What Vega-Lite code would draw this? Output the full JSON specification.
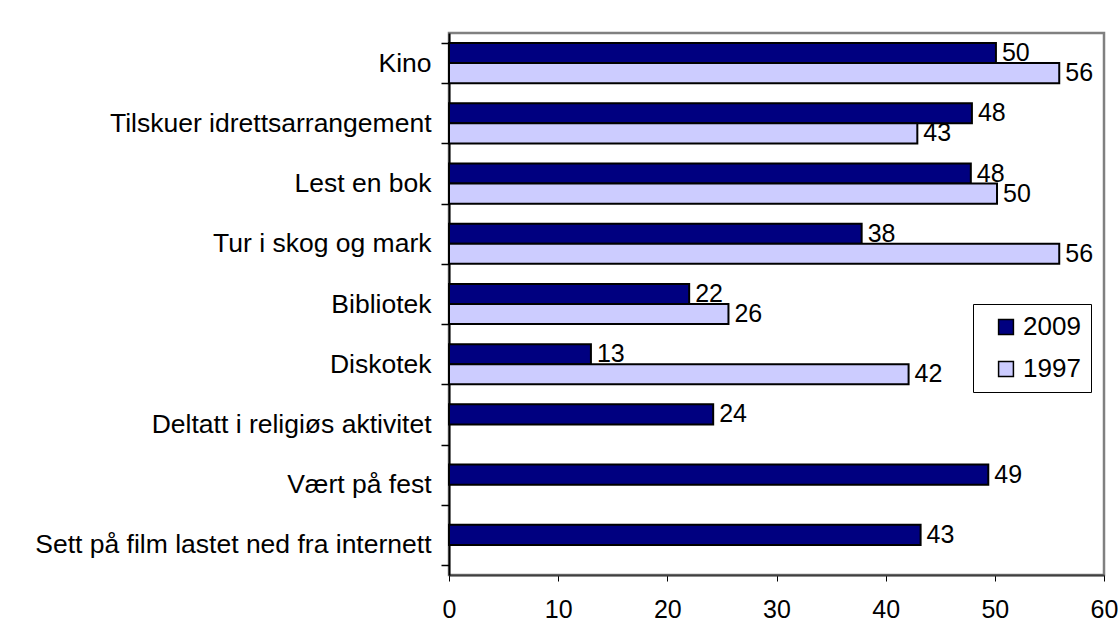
{
  "$schema": "https://vega.github.io/schema/vega-lite/v6.json",
  "autosize": "none",
  "width": 655,
  "height": 542,
  "padding": {"left": 449, "top": 33, "right": 16, "bottom": 67},
  "background": "white",
  "config": {
    "font": "Liberation Sans",
    "view": {"stroke": "#808080", "strokeWidth": 2.5}
  },
  "data": {
    "values": [
      {"cat": "Kino", "year": "2009", "value": 50.1},
      {"cat": "Kino", "year": "1997", "value": 55.9},
      {"cat": "Tilskuer idrettsarrangement", "year": "2009", "value": 47.9},
      {"cat": "Tilskuer idrettsarrangement", "year": "1997", "value": 42.9},
      {"cat": "Lest en bok", "year": "2009", "value": 47.8},
      {"cat": "Lest en bok", "year": "1997", "value": 50.2},
      {"cat": "Tur i skog og mark", "year": "2009", "value": 37.8},
      {"cat": "Tur i skog og mark", "year": "1997", "value": 55.9},
      {"cat": "Bibliotek", "year": "2009", "value": 22.0},
      {"cat": "Bibliotek", "year": "1997", "value": 25.6},
      {"cat": "Diskotek", "year": "2009", "value": 13.0},
      {"cat": "Diskotek", "year": "1997", "value": 42.1},
      {"cat": "Deltatt i religiøs aktivitet", "year": "2009", "value": 24.2},
      {"cat": "Vært på fest", "year": "2009", "value": 49.4},
      {"cat": "Sett på film lastet ned fra internett", "year": "2009", "value": 43.2}
    ]
  },
  "encoding": {
    "y": {
      "field": "cat",
      "type": "nominal",
      "sort": null,
      "scale": {"paddingInner": 0.333, "paddingOuter": 0.1667},
      "axis": {
        "title": null,
        "tickBand": "extent",
        "labelFontSize": 26.5,
        "labelColor": "black",
        "labelPadding": 10,
        "labelLimit": 500,
        "tickSize": 8,
        "tickColor": "black",
        "tickWidth": 1.5,
        "domainColor": "black",
        "domainWidth": 2
      }
    },
    "yOffset": {"field": "year", "type": "nominal", "scale": {"domain": ["2009", "1997"]}},
    "x": {
      "field": "value",
      "type": "quantitative",
      "scale": {"domain": [0, 60], "nice": false},
      "axis": {
        "title": null,
        "values": [0, 10, 20, 30, 40, 50, 60],
        "grid": false,
        "labelFlush": false,
        "labelFontSize": 25,
        "labelColor": "black",
        "labelPadding": 16,
        "tickSize": 6,
        "tickColor": "black",
        "tickWidth": 1,
        "domainColor": "#404040",
        "domainWidth": 2
      }
    }
  },
  "layer": [
    {
      "mark": {"type": "bar", "stroke": "black", "strokeWidth": 2, "opacity": 1},
      "encoding": {
        "fill": {
          "field": "year",
          "type": "nominal",
          "scale": {"domain": ["2009", "1997"], "range": ["#000080", "#CCCCFF"]},
          "legend": {
            "title": null,
            "orient": "none",
            "legendX": 524,
            "legendY": 271,
            "strokeColor": "black",
            "fillColor": "white",
            "padding": 10,
            "symbolOffset": 10,
            "symbolType": "square",
            "symbolSize": 220,
            "symbolStrokeColor": "black",
            "symbolStrokeWidth": 1.5,
            "symbolOpacity": 1,
            "labelFontSize": 26,
            "labelColor": "black",
            "labelOffset": 4,
            "rowPadding": 16
          }
        }
      }
    },
    {
      "mark": {"type": "text", "align": "left", "baseline": "middle", "dx": 6, "fontSize": 25, "color": "black"},
      "encoding": {
        "text": {"field": "value", "type": "quantitative", "format": ".0f"}
      }
    }
  ]
}
